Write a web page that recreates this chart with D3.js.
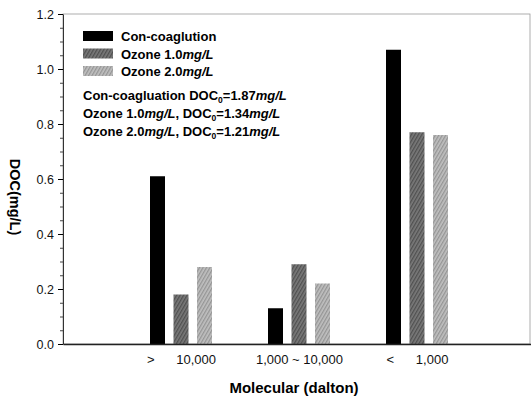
<!DOCTYPE html>
<html>
<head>
<meta charset="utf-8">
<script src="https://cdn.jsdelivr.net/npm/d3@7"></script>
<style>
  body { margin: 0; background: #fff; }
  svg { font-family: "Liberation Sans", Arial, sans-serif; }
</style>
</head>
<body>
<div id="chart"></div>
<script>
// data
const categories = [">      10,000", "1,000 ~ 10,000", "<      1,000"];
const series = ["Con-coaglution", "Ozone 1.0", "Ozone 2.0"];
const conCoag = [0.61, 0.13, 1.07];
const ozone10 = [0.18, 0.29, 0.77];
const ozone20 = [0.28, 0.22, 0.76];
const yTicks = [0, 0.2, 0.4, 0.6, 0.8, 1.0, 1.2];
const doc0 = ["1.87", "1.34", "1.21"];

const values = [conCoag, ozone10, ozone20];

const width = 531, height = 399;
const margin = {top: 14, right: -4, bottom: 54, left: 63};

const svg = d3.select("#chart")
    .append("svg")
    .attr("width", width)
    .attr("height", height);

const defs = svg.append("defs");
function hatch(id, bg, fg) {
    const p = defs.append("pattern")
        .attr("id", id)
        .attr("patternUnits", "userSpaceOnUse")
        .attr("width", 3)
        .attr("height", 3)
        .attr("patternTransform", "rotate(30)");
    p.append("rect").attr("width", 3).attr("height", 3).attr("fill", bg);
    p.append("rect").attr("width", 1.3).attr("height", 3).attr("fill", fg);
}
hatch("dark", "#7a7a7a", "#505050");
hatch("light", "#c0c0c0", "#959595");

const fills = ["#000", "url(#dark)", "url(#light)"];

const y = d3.scaleLinear([0, 1.2], [height - margin.bottom - 1, margin.top]);
const x = d3.scaleLinear([0, 4], [margin.left, width - margin.right]);
const sub = d3.scalePoint(series, [-23.5, 23.5]);
const barW = 15;

// frame (top / right)
svg.append("rect")
    .attr("x", x(0))
    .attr("y", y(1.2))
    .attr("width", width - x(0) - 1)
    .attr("height", y(0) - y(1.2))
    .attr("fill", "none")
    .attr("stroke", "#999")
    .attr("stroke-width", 0.8);

// bars
series.forEach((s, si) => {
    svg.append("g")
        .selectAll("rect")
        .data(values[si])
        .join("rect")
        .attr("x", (d, i) => x(i + 1) + sub(s) - barW / 2)
        .attr("y", d => y(d))
        .attr("width", barW)
        .attr("height", d => y(0) - y(d))
        .attr("fill", fills[si]);
});

// y axis
const minor = d3.range(0, 1.2001, 0.05).filter(v => Math.abs(v * 5 - Math.round(v * 5)) > 1e-6);
svg.append("g")
    .attr("transform", `translate(${x(0)},0)`)
    .call(d3.axisLeft(y).tickValues(minor).tickSize(3).tickFormat(""))
    .call(g => g.select(".domain").remove())
    .call(g => g.selectAll("line").attr("stroke", "#444"));

svg.append("g")
    .attr("transform", `translate(${x(0)},0)`)
    .call(d3.axisLeft(y).tickValues(yTicks).tickSize(5).tickSizeOuter(0).tickPadding(4).tickFormat(d3.format(".1f")))
    .call(g => g.select(".domain").attr("stroke", "#333").attr("stroke-width", 1))
    .call(g => g.selectAll("text").attr("font-size", 12.5).attr("fill", "#111")
        .attr("font-family", "'Liberation Sans', Arial, sans-serif"));

// x axis
svg.append("g")
    .attr("transform", `translate(0,${y(0)})`)
    .call(d3.axisBottom(x).tickValues([1, 2, 3]).tickSize(0).tickSizeOuter(0).tickPadding(11)
        .tickFormat((d, i) => categories[i]))
    .call(g => g.select(".domain").attr("stroke", "#222").attr("stroke-width", 1.5))
    .call(g => g.selectAll("text").attr("font-size", 13).attr("fill", "#111")
        .style("white-space", "pre")
        .attr("font-family", "'Liberation Sans', Arial, sans-serif"));

// axis titles
svg.append("text")
    .attr("x", 294)
    .attr("y", 393)
    .attr("text-anchor", "middle")
    .attr("font-size", 15)
    .attr("font-weight", "bold")
    .text("Molecular (dalton)");

svg.append("text")
    .attr("transform", "translate(10,197) rotate(90)")
    .attr("text-anchor", "middle")
    .attr("font-size", 14.5)
    .attr("font-weight", "bold")
    .text("DOC(mg/L)");

// legend
const legend = svg.append("g")
    .attr("font-size", 13)
    .attr("font-weight", "bold");

legend.selectAll("g")
    .data(series)
    .join("g")
    .attr("transform", (d, i) => `translate(83,${31 + i * 17.5})`)
    .call(g => g.append("rect")
        .attr("width", 30)
        .attr("height", 10)
        .attr("fill", (d, i) => fills[i]))
    .call(g => g.append("text")
        .attr("x", 38)
        .attr("y", 10)
        .each(function(d, i) {
            const t = d3.select(this);
            if (i === 0) { t.text(d); return; }
            t.append("tspan").text(d);
            t.append("tspan").attr("font-style", "italic").text("mg/L");
        }));

const notes = [
    ["Con-coagluation", ""],
    ["Ozone 1.0", "mg/L"],
    ["Ozone 2.0", "mg/L"]
];
legend.selectAll("text.note")
    .data(notes)
    .join("text")
    .attr("class", "note")
    .attr("x", 83)
    .attr("y", (d, i) => 99.5 + i * 18)
    .each(function(d, i) {
        const t = d3.select(this);
        t.append("tspan").text(d[0] + (d[1] ? "" : " "));
        if (d[1]) {
            t.append("tspan").attr("font-style", "italic").text(d[1]);
            t.append("tspan").text(", ");
        }
        t.append("tspan").text("DOC");
        t.append("tspan").attr("font-size", 8.5).attr("dy", 3).text("0");
        t.append("tspan").attr("dy", -3).text("=" + doc0[i]);
        t.append("tspan").attr("font-style", "italic").text("mg/L");
    });
</script>
</body>
</html>
